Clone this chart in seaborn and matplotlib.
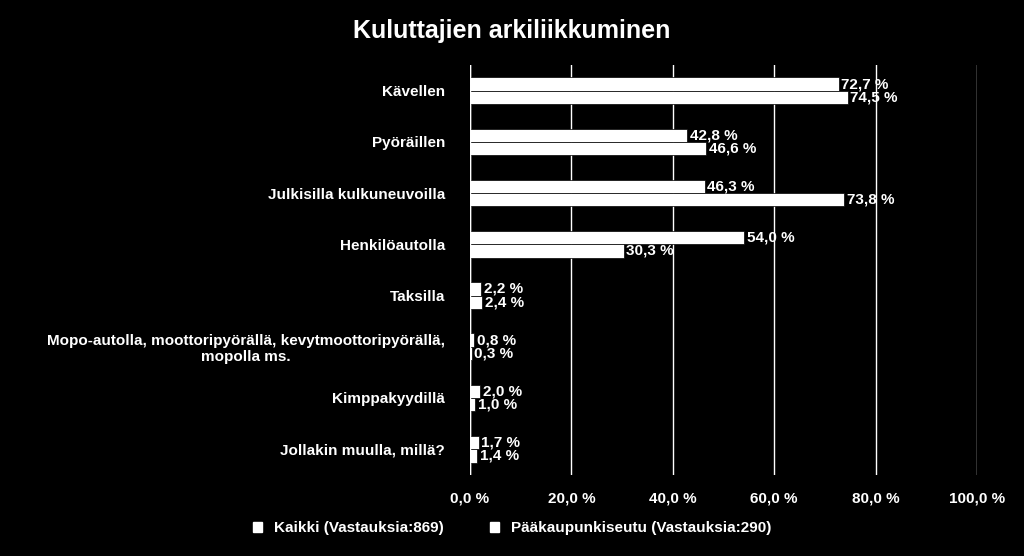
import matplotlib
matplotlib.use("Agg")
import matplotlib.pyplot as plt
import pandas as pd
import seaborn as sns

categories = ["Kävellen", "Pyöräillen", "Julkisilla kulkuneuvoilla", "Henkilöautolla",
              "Taksilla", "Mopo-autolla, moottoripyörällä, kevytmoottoripyörällä,\nmopolla ms.",
              "Kimppakyydillä", "Jollakin muulla, millä?"]
kaikki = [72.7, 42.8, 46.3, 54.0, 2.2, 0.8, 2.0, 1.7]
paakaupunki = [74.5, 46.6, 73.8, 30.3, 2.4, 0.3, 1.0, 1.4]
series = ["Kaikki (Vastauksia:869)", "Pääkaupunkiseutu (Vastauksia:290)"]

df = pd.DataFrame({
    "cat": categories * 2,
    "val": kaikki + paakaupunki,
    "series": [series[0]] * len(categories) + [series[1]] * len(categories),
})

plt.rcParams["font.family"] = "Liberation Sans"
plt.rcParams["font.weight"] = "bold"
fig = plt.figure(figsize=(10.24, 5.56), dpi=100, facecolor="black")
ax = fig.add_axes([0.459, 0.146, 0.495, 0.737], facecolor="black")

sns.barplot(data=df, y="cat", x="val", hue="series", orient="h",
            palette=["white", "white"], width=0.52, ax=ax, legend=False,
            edgecolor="black", linewidth=0.5)

for cont in ax.containers:
    ax.bar_label(cont, labels=[f"{v:.1f} %".replace(".", ",") for v in cont.datavalues],
                 color="white", fontsize=11, fontweight="bold", padding=2)

ax.set_xlim(0, 100)
ax.set_xticks([0, 20, 40, 60, 80, 100])
ax.set_xticklabels([f"{t:.1f} %".replace(".", ",") for t in [0, 20, 40, 60, 80, 100]])
ax.tick_params(colors="white", labelsize=11, length=0, pad=12)
ax.tick_params(axis="y", pad=18)
for lab in ax.get_yticklabels():
    lab.set_multialignment("center")
ax.grid(axis="x", color="white", linewidth=1)
ax.set_axisbelow(True)
for s in ax.spines.values():
    s.set_visible(False)
ax.axvline(0, color="white", linewidth=1)
ax.set_xlabel("")
ax.set_ylabel("")

fig.text(0.5, 0.945, "Kuluttajien arkiliikkuminen", color="white", fontsize=18,
         fontweight="bold", ha="center", va="center")

handles = [plt.Rectangle((0, 0), 1, 1, color="white") for _ in series]
fig.legend(handles, series, loc="center", bbox_to_anchor=(0.5, 0.05), ncol=2,
           frameon=False, labelcolor="white", fontsize=11, handlelength=0.6,
           handleheight=0.6, columnspacing=3)

fig.savefig("out.png", dpi=100, facecolor="black")
